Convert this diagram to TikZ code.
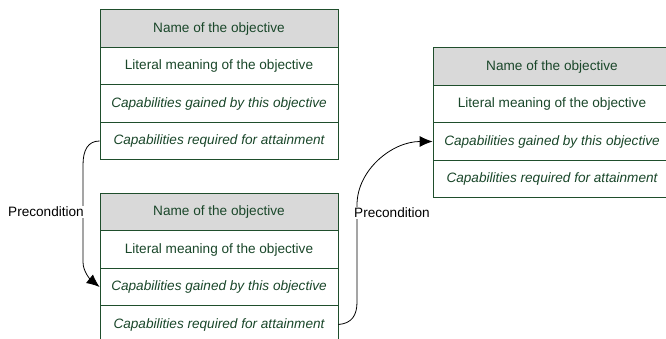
\documentclass[tikz,border=0pt]{standalone}
\usepackage{fontspec}
\setmainfont{Liberation Sans}
\usetikzlibrary{arrows.meta}
\definecolor{bordercol}{HTML}{1F4E2C}
\definecolor{textcol}{HTML}{1A472A}
\definecolor{headcol}{HTML}{D9D9D9}
\tikzset{
  objrow/.style={draw=bordercol, line width=0.8pt, minimum width=238pt, minimum height=37.5pt,
    inner sep=0pt, text=textcol, font=\fontsize{13.6}{16}\selectfont},
  headrow/.style={objrow, fill=headcol},
  plainrow/.style={objrow, fill=white},
  itrow/.style={objrow, fill=white, font=\fontsize{13.6}{16}\selectfont\itshape},
  conn/.style={draw=black, line width=0.8pt, -{Latex[length=13pt,width=11pt]}},
  condlabel/.style={fill=white, inner sep=1pt, font=\fontsize{13.6}{16}\selectfont, text=black}
}
\begin{document}
\begin{tikzpicture}[x=1pt,y=1pt]
\useasboundingbox (0,0) rectangle (666,-338);
\clip (0,0) rectangle (666,-338);
% Box 1
\node[headrow]  (a1) at (219,-28.5) {Name of the objective};
\node[plainrow] (a2) at (219,-66)   {Literal meaning of the objective};
\node[itrow]    (a3) at (219,-103.5){Capabilities gained by this objective};
\node[itrow]    (a4) at (219,-141)  {Capabilities required for attainment};
% Box 2
\node[headrow]  (b1) at (219,-212)  {Name of the objective};
\node[plainrow] (b2) at (219,-249.5){Literal meaning of the objective};
\node[itrow]    (b3) at (219,-287)  {Capabilities gained by this objective};
\node[itrow]    (b4) at (219,-324.5){Capabilities required for attainment};
% Box 3
\node[headrow]  (c1) at (552,-66.5) {Name of the objective};
\node[plainrow] (c2) at (552,-104)  {Literal meaning of the objective};
\node[itrow]    (c3) at (552,-141.5){Capabilities gained by this objective};
\node[itrow]    (c4) at (552,-179)  {Capabilities required for attainment};
% Connector 1
\draw[conn] (a4.west) .. controls (88,-141) and (83,-150) .. (83,-165)
  -- (83,-262) .. controls (83,-272) and (91,-280) .. (b3.west);
\node[condlabel, anchor=east] (l1) at (85,-212) {Precondition};
% Connector 2
\draw[conn] (b4.east) .. controls (352,-323.5) and (357,-315) .. (357,-302)
  -- (357,-205) .. controls (357,-170) and (392,-141.5) .. (c3.west);
\node[condlabel, anchor=west] (l2) at (353,-213) {Precondition};
\end{tikzpicture}
\end{document}
